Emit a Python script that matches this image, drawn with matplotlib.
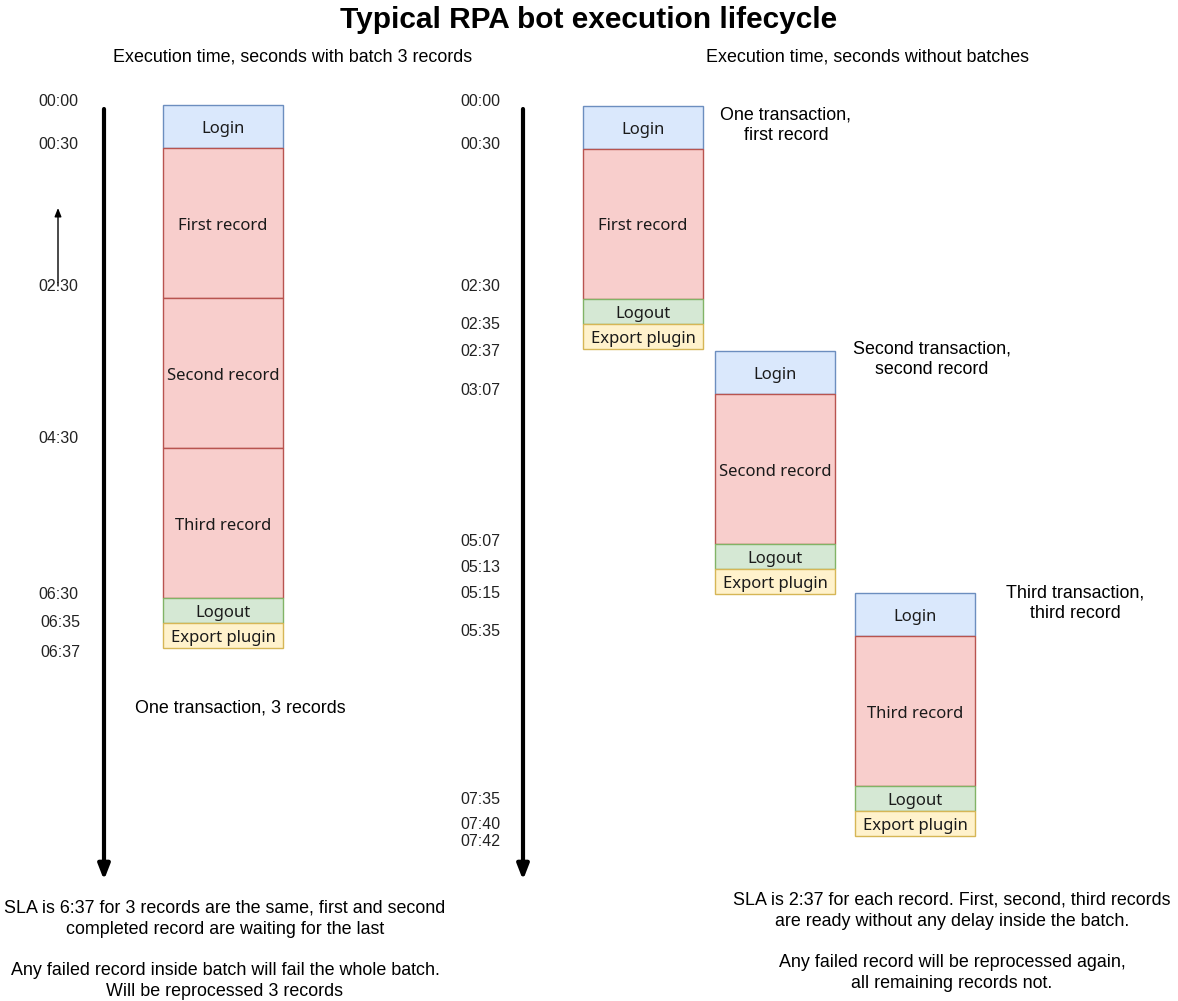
import matplotlib.pyplot as plt
from matplotlib.patches import Rectangle

# --- data -------------------------------------------------------------
batch_stages = ["Login", "First record", "Second record", "Third record", "Logout", "Export plugin"]
batch_times = ["00:00", "00:30", "02:30", "04:30", "06:30", "06:35", "06:37"]

single_runs = [
    ["Login", "First record", "Logout", "Export plugin"],
    ["Login", "Second record", "Logout", "Export plugin"],
    ["Login", "Third record", "Logout", "Export plugin"],
]
single_times = ["00:00", "00:30", "02:30", "02:35", "02:37", "03:07",
                "05:07", "05:13", "05:15", "05:35", "07:35", "07:40", "07:42"]
single_notes = ["One transaction,\nfirst record",
                "Second transaction,\nsecond record",
                "Third transaction,\nthird record"]

title = "Typical RPA bot execution lifecycle"
left_head = "Execution time, seconds with batch 3 records"
right_head = "Execution time, seconds without batches"
left_note = "One transaction, 3 records"
left_foot = ("SLA is 6:37 for 3 records are the same, first and second\n"
             "completed record are waiting for the last\n\n"
             "Any failed record inside batch will fail the whole batch.\n"
             "Will be reprocessed 3 records")
right_foot = ("SLA is 2:37 for each record. First, second, third records\n"
              "are ready without any delay inside the batch.\n\n"
              "Any failed record will be reprocessed again,\n"
              "all remaining records not.")

# --- layout (drawing units = pixels of the page) ------------------------
styles = {
    "Login": ("#dae8fc", "#6c8ebf", 43),
    "Logout": ("#d5e8d4", "#82b366", 25),
    "Export plugin": ("#fff2cc", "#d6b656", 25),
}
rec_style = ("#f8cecc", "#b85450", 150)

box_w = 120
left_box = (163, 105)
right_boxes = [(583, 106), (715, 351), (855, 593)]
note_pos = [(786, 125), (932, 359), (1075, 603)]

batch_time_y = [100, 143, 285, 437, 593, 621, 651]
batch_time_x = [58, 58, 58, 58, 58, 60, 60]
single_time_y = [100, 143, 285, 323, 350, 389, 540, 566, 592, 630, 798, 823, 840]

box_font = ["Noto Sans", "DejaVu Sans"]
txt_font = ["Liberation Sans", "DejaVu Sans"]
txt_size = 12.9

fig = plt.figure(figsize=(11.78, 10.01), dpi=100)
ax = fig.add_axes([0, 0, 1, 1])
ax.set_xlim(0, 1178)
ax.set_ylim(1001, 0)
ax.axis("off")


def draw_stack(ax, x, y, stages):
    for name in stages:
        face, edge, h = styles.get(name, rec_style)
        ax.add_patch(Rectangle((x, y), box_w, h, facecolor=face, edgecolor=edge, lw=1))
        ax.text(x + box_w / 2, y + h / 2 + 2.5, name, ha="center", va="center",
                fontsize=12, family=box_font, color="#1a1a1a")
        y += h


def time_axis(ax, x):
    ax.annotate("", xy=(x, 880), xytext=(x, 109),
                arrowprops=dict(arrowstyle="-|>,head_width=0.35,head_length=0.9",
                                lw=3, color="black", shrinkA=0, shrinkB=0))


# title and headers
ax.text(589, 20, title, ha="center", va="center", fontsize=21.5,
        fontweight="bold", family=txt_font)
ax.text(293, 57, left_head, ha="center", va="center", fontsize=txt_size, family=txt_font)
ax.text(867, 57, right_head, ha="center", va="center", fontsize=txt_size, family=txt_font)

# left: one batch
time_axis(ax, 104)
ax.annotate("", xy=(58, 208), xytext=(58, 286),
            arrowprops=dict(arrowstyle="-|>,head_width=0.2,head_length=0.5",
                            lw=1, color="black", shrinkA=0, shrinkB=0))
for lab, tx, ty in zip(batch_times, batch_time_x, batch_time_y):
    ax.text(tx, ty + 1.5, lab, ha="center", va="center", fontsize=11.5, family=txt_font,
            color="#222222")
draw_stack(ax, left_box[0], left_box[1], batch_stages)
ax.text(240, 708, left_note, ha="center", va="center", fontsize=txt_size, family=txt_font)
ax.text(225, 950, left_foot, ha="center", va="center", fontsize=txt_size, family=txt_font,
        linespacing=1.3)

# right: one transaction per record
time_axis(ax, 523)
for lab, ty in zip(single_times, single_time_y):
    ax.text(480, ty + 1.5, lab, ha="center", va="center", fontsize=11.5, family=txt_font,
            color="#222222")
for stages, (bx, by), note, (nx, ny) in zip(single_runs, right_boxes, single_notes, note_pos):
    draw_stack(ax, bx, by, stages)
    ax.text(nx, ny, note, ha="center", va="center", fontsize=txt_size, family=txt_font,
            linespacing=1.3)
ax.text(952, 942, right_foot, ha="center", va="center", fontsize=txt_size, family=txt_font,
        linespacing=1.3)

fig.savefig("out.png", dpi=100)
